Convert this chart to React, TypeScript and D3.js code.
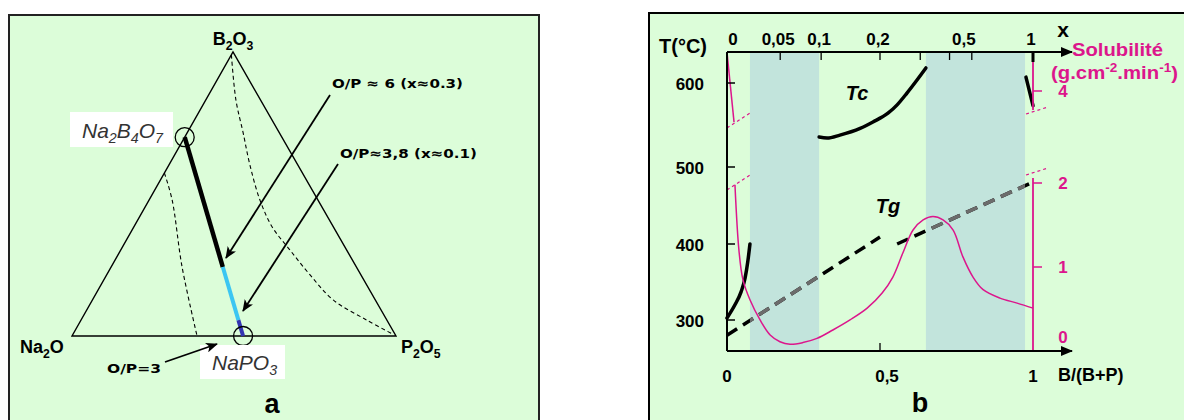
import React from "react";
import * as d3 from "d3";

// ---------------- Panel a : ternary Na2O - B2O3 - P2O5 ----------------
// compositions as [fraction P2O5, fraction B2O3]
const na2b4o7Comp = [0, 0.7];
const napo3Comp = [0.528, 0];
const joinBreaks = [0, 0.653, 0.92, 1];
const joinColors = ["#000000", "#3cc6f2", "#3434b2"];
const leftDashP = [0, 0.071, 0.219, 0.386];
const leftDashB = [0.574, 0.479, 0.243, 0];
const rightDashP = [0, 0.093, 0.173, 0.25, 0.342, 0.427, 0.522, 0.628, 0.743, 0.882, 0.99];
const rightDashB = [0.99, 0.831, 0.715, 0.602, 0.479, 0.384, 0.303, 0.215, 0.127, 0.056, 0.005];
const annotationTexts = ["O/P \u2248 6 (x\u22480.3)", "O/P\u22483,8 (x\u22480.1)", "O/P=3"];

// ---------------- Panel b ----------------
const topTicks = [0, 0.05, 0.1, 0.2, 0.3, 0.4, 0.5, 1];
const topTickLabels = ["0", "0,05", "0,1", "0,2", "", "", "0,5", "1"];
const bottomTicks = [0, 0.5, 1];
const bottomTickLabels = ["0", "0,5", "1"];
const tempTicks = [300, 400, 500, 600];
const solTicksLow = [1, 2];
const solTicksHigh = [4];
const solLabelsLow = ["0", "1", "2"];
const solLabelValuesLow = [0, 1, 2];
const shadedB = [
  [0.075, 0.301],
  [0.65, 0.974],
];
const tcLeftB = [0, 0.026, 0.046, 0.059, 0.068, 0.075];
const tcLeftT = [302.6, 320, 337, 355, 377, 400];
const tcMidB = [0.301, 0.327, 0.369, 0.435, 0.477, 0.526, 0.556, 0.588, 0.621, 0.65];
const tcMidT = [535.7, 534.5, 538, 546, 553.6, 564, 574, 588, 603.6, 617.9];
const tcRightB = [0.977, 1];
const tcRightT = [607, 573];
const tg1B = [0, 0.5];
const tg1T = [280, 409];
const tg2B = [0.556, 1];
const tg2T = [400, 480.5];
const solB = [0.026, 0.039, 0.052, 0.075, 0.108, 0.141, 0.173, 0.206, 0.248, 0.294, 0.346, 0.402, 0.458, 0.507, 0.542, 0.575, 0.608, 0.641, 0.673, 0.706, 0.739, 0.771, 0.804, 0.837, 0.892, 0.948, 1.0];
const solS = [1.98, 1.2, 0.85, 0.61, 0.37, 0.19, 0.11, 0.08, 0.1, 0.15, 0.25, 0.37, 0.51, 0.69, 0.88, 1.17, 1.44, 1.56, 1.6, 1.56, 1.44, 1.12, 0.88, 0.73, 0.63, 0.57, 0.51];
const solHighB = [0, 0.023];
const solHighS = [4.46, 3.63];

const BG = "#dcfdd9";
const SHADE = "#c2e4dc";
const MAG = "#dc168c";
const FONT = "'Liberation Sans', Arial, sans-serif";

function Chem({ x, y, parts, size, anchor = "middle", weight = "bold", style = "normal", fill = "#000", sub = 5 }) {
  let shift = 0;
  const spans = parts.map((p, i) => {
    const isSub = typeof p !== "string";
    const text = isSub ? p.sub : p;
    const target = isSub ? sub : 0;
    const dy = target - shift;
    shift = target;
    return (
      <tspan key={i} dy={dy} fontSize={isSub ? size * 0.68 : size}>
        {text}
      </tspan>
    );
  });
  return (
    <text x={x} y={y} fontFamily={FONT} fontSize={size} fontWeight={weight} fontStyle={style} fill={fill} textAnchor={anchor}>
      {spans}
    </text>
  );
}

export default function App() {
  // ternary frame
  const NA = [72, 336];
  const PV = [396, 336];
  const BV = [233, 52];
  const tern = (p: number, b: number): [number, number] => [
    NA[0] + (PV[0] - NA[0]) * p + (BV[0] - NA[0]) * b,
    NA[1] + (PV[1] - NA[1]) * p + (BV[1] - NA[1]) * b,
  ];
  const curve = d3.line().curve(d3.curveCatmullRom.alpha(0.5));
  const leftDash = curve(leftDashP.map((p, i) => tern(p, leftDashB[i])));
  const rightDash = curve(rightDashP.map((p, i) => tern(p, rightDashB[i])));
  const s0 = tern(na2b4o7Comp[0], na2b4o7Comp[1]);
  const s1 = tern(napo3Comp[0], napo3Comp[1]);
  const along = (t: number): [number, number] => [s0[0] + (s1[0] - s0[0]) * t, s0[1] + (s1[1] - s0[1]) * t];

  // panel b scales
  const xB = d3.scaleLinear().domain([0, 1]).range([727, 1033]);
  const xTop = (x: number) => xB((4 * x) / (1 + 3 * x));
  const yT = d3.scaleLinear().domain([300, 400, 500, 600]).range([320, 244, 167, 83]);
  const ySolLo = d3.scaleLinear().domain([0, 2]).range([351, 183]);
  const ySolHi = d3.scaleLinear().domain([4, 5]).range([91, 7]);
  const yTop = 52;
  const yBot = 351;

  const lineT = d3.line().curve(d3.curveMonotoneX);
  const tcLeft = lineT(tcLeftB.map((b, i) => [xB(b), yT(tcLeftT[i])]));
  const tcMid = lineT(tcMidB.map((b, i) => [xB(b), yT(tcMidT[i])]));
  const tcRight = lineT(tcRightB.map((b, i) => [xB(b), yT(tcRightT[i])]));
  const tg1 = d3.line()(tg1B.map((b, i) => [xB(b), yT(tg1T[i])]));
  const tg2 = d3.line()(tg2B.map((b, i) => [xB(b), yT(tg2T[i])]));
  const solLine = d3.line().curve(d3.curveCatmullRom.alpha(0.5))(solB.map((b, i) => [xB(b), ySolLo(solS[i])]));
  const solHigh = d3.line()(solHighB.map((b, i) => [xB(b), ySolHi(solHighS[i])]));

  const xR = xB(1);
  const x0 = xB(0);

  return (
    <svg width={1184} height={420} style={{ position: "absolute", left: 0, top: 0 }} xmlns="http://www.w3.org/2000/svg">
      <defs>
        <marker id="arr" markerUnits="userSpaceOnUse" markerWidth={12} markerHeight={10} refX={11} refY={5} orient="auto">
          <path d="M0,0 L12,5 L0,10 L3,5 z" fill="#000" />
        </marker>
        <marker id="axarr" markerUnits="userSpaceOnUse" markerWidth={12} markerHeight={10} refX={11} refY={5} orient="auto">
          <path d="M0,0 L12,5 L0,10 z" fill="#000" />
        </marker>
        <clipPath id="shadeClip">
          {shadedB.map((r, i) => (
            <rect key={i} x={xB(r[0])} y={yTop} width={xB(r[1]) - xB(r[0])} height={yBot - yTop} />
          ))}
        </clipPath>
      </defs>
      <rect x={0} y={0} width={1184} height={420} fill="#fff" />

      {/* ---------- panel a ---------- */}
      <rect x={9} y={15} width={530} height={420} fill={BG} stroke="#222" strokeWidth={2} />
      <path d={`M${NA[0]},${NA[1]} L${PV[0]},${PV[1]} L${BV[0]},${BV[1]} Z`} fill="none" stroke="#000" strokeWidth={1.4} strokeLinejoin="miter" />
      <path d={leftDash} fill="none" stroke="#000" strokeWidth={1.1} strokeDasharray="4,3" />
      <path d={rightDash} fill="none" stroke="#000" strokeWidth={1.1} strokeDasharray="4,3" />
      {joinColors.map((c, i) => {
        const a = along(joinBreaks[i]);
        const b = along(joinBreaks[i + 1]);
        return <line key={i} x1={a[0]} y1={a[1]} x2={b[0]} y2={b[1]} stroke={c} strokeWidth={i === 0 ? 4.5 : 4} />;
      })}
      <circle cx={s0[0]} cy={s0[1]} r={9.5} fill="none" stroke="#000" strokeWidth={1.3} />
      <circle cx={s1[0]} cy={s1[1]} r={9.5} fill="none" stroke="#000" strokeWidth={1.3} />

      <Chem x={233} y={45} size={18} parts={["B", { sub: "2" }, "O", { sub: "3" }]} />
      <Chem x={20} y={353} size={18} anchor="start" parts={["Na", { sub: "2" }, "O"]} />
      <Chem x={401} y={353} size={18} anchor="start" parts={["P", { sub: "2" }, "O", { sub: "5" }]} />

      <rect x={70} y={112} width={103} height={35} fill="#fff" />
      <Chem x={82} y={138} size={21} anchor="start" weight="normal" style="italic" fill="#333" sub={5}
        parts={["Na", { sub: "2" }, "B", { sub: "4" }, "O", { sub: "7" }]} />
      <rect x={200} y={345} width={85} height={34} fill="#fff" />
      <Chem x={212} y={370} size={21} anchor="start" weight="normal" style="italic" fill="#333" sub={5}
        parts={["NaPO", { sub: "3" }]} />

      <text x={332} y={88} fontFamily="'DejaVu Sans', Verdana, sans-serif" fontWeight="bold" fontSize={13} textLength={131} lengthAdjust="spacingAndGlyphs">{annotationTexts[0]}</text>
      <line x1={330} y1={95} x2={226} y2={258} stroke="#000" strokeWidth={1.8} markerEnd="url(#arr)" />
      <text x={340} y={158} fontFamily="'DejaVu Sans', Verdana, sans-serif" fontWeight="bold" fontSize={13} textLength={137} lengthAdjust="spacingAndGlyphs">{annotationTexts[1]}</text>
      <line x1={338} y1={164} x2={243} y2={311} stroke="#000" strokeWidth={1.8} markerEnd="url(#arr)" />
      <text x={107} y={373} fontFamily="'DejaVu Sans', Verdana, sans-serif" fontWeight="bold" fontSize={13} textLength={54} lengthAdjust="spacingAndGlyphs">{annotationTexts[2]}</text>
      <line x1={165} y1={362} x2={217} y2={344} stroke="#000" strokeWidth={1.8} markerEnd="url(#arr)" />

      <text x={272} y={413} fontFamily={FONT} fontWeight="bold" fontSize={27} textAnchor="middle">a</text>

      {/* ---------- panel b ---------- */}
      <rect x={649} y={13} width={600} height={420} fill={BG} stroke="#000" strokeWidth={2} />
      {shadedB.map((r, i) => (
        <rect key={i} x={xB(r[0])} y={yTop} width={xB(r[1]) - xB(r[0])} height={yBot - yTop} fill={SHADE} />
      ))}

      {/* Tg dashed lines */}
      {[tg1, tg2].map((d, i) => (
        <g key={i}>
          <path d={d} fill="none" stroke="#000" strokeWidth={3.5} strokeDasharray="12,7" />
          <path d={d} fill="none" stroke="#6c6c6c" strokeWidth={3.5} strokeDasharray="12,7" clipPath="url(#shadeClip)" />
        </g>
      ))}

      {/* Tc lines */}
      {[tcLeft, tcMid, tcRight].map((d, i) => (
        <path key={i} d={d} fill="none" stroke="#000" strokeWidth={3.5} strokeLinecap="round" />
      ))}

      {/* solubility */}
      <path d={solLine} fill="none" stroke={MAG} strokeWidth={1.5} />
      <path d={solHigh} fill="none" stroke={MAG} strokeWidth={1.5} />

      {/* axis breaks */}
      <line x1={x0} y1={128} x2={750} y2={113} stroke={MAG} strokeWidth={1.2} strokeDasharray="3,3" />
      <line x1={x0} y1={190} x2={750} y2={175} stroke={MAG} strokeWidth={1.2} strokeDasharray="3,3" />
      <line x1={1026} y1={114} x2={1048} y2={107} stroke={MAG} strokeWidth={1.2} strokeDasharray="3,3" />
      <line x1={1026} y1={175} x2={1048} y2={168} stroke={MAG} strokeWidth={1.2} strokeDasharray="3,3" />

      {/* right magenta axis */}
      <line x1={xR} y1={yTop + 10} x2={xR} y2={110} stroke={MAG} strokeWidth={1.8} />
      <line x1={xR} y1={178} x2={xR} y2={yBot} stroke={MAG} strokeWidth={1.8} />
      {solTicksLow.map((s) => (
        <line key={s} x1={xR} x2={xR + 9} y1={ySolLo(s)} y2={ySolLo(s)} stroke={MAG} strokeWidth={1.5} />
      ))}
      {solTicksHigh.map((s) => (
        <line key={s} x1={xR} x2={xR + 9} y1={ySolHi(s)} y2={ySolHi(s)} stroke={MAG} strokeWidth={1.5} />
      ))}
      {solLabelValuesLow.map((s, i) => (
        <text key={s} x={1063} y={s === 0 ? ySolLo(s) - 8 : ySolLo(s) + 6} fontFamily={FONT} fontWeight="bold" fontSize={17} fill={MAG} textAnchor="middle">{solLabelsLow[i]}</text>
      ))}
      {solTicksHigh.map((s) => (
        <text key={s} x={1063} y={ySolHi(s) + 6} fontFamily={FONT} fontWeight="bold" fontSize={17} fill={MAG} textAnchor="middle">{String(s)}</text>
      ))}

      {/* left axis */}
      <line x1={x0} y1={yTop} x2={x0} y2={yBot} stroke="#000" strokeWidth={2} />
      {tempTicks.map((t) => (
        <g key={t}>
          <line x1={x0} x2={x0 + 8} y1={yT(t)} y2={yT(t)} stroke="#000" strokeWidth={1.5} />
          <text x={704} y={yT(t) + 7} fontFamily={FONT} fontWeight="bold" fontSize={17} textAnchor="end">{String(t)}</text>
        </g>
      ))}
      <text x={659} y={53} fontFamily={FONT} fontWeight="bold" fontSize={20}>T(°C)</text>

      {/* top axis (x) */}
      <line x1={x0} y1={yTop} x2={1072} y2={yTop} stroke="#000" strokeWidth={2} markerEnd="url(#axarr)" />
      {topTicks.map((t, i) => (
        <g key={t}>
          {t > 0 && (
            <line x1={xTop(t)} x2={xTop(t)} y1={yTop} y2={yTop + (t === 1 ? 10 : 8)} stroke="#000" strokeWidth={t === 1 ? 3 : 1.3} />
          )}
          {topTickLabels[i] && (
            <text x={xTop(t) + (t === 0 ? 6 : t === 0.5 ? -8 : -2)} y={45} fontFamily={FONT} fontWeight="bold" fontSize={17} textAnchor="middle">{topTickLabels[i]}</text>
          )}
        </g>
      ))}
      <text x={1063} y={37} fontFamily={FONT} fontWeight="bold" fontSize={21} textAnchor="middle">x</text>
      <text x={1072} y={56} fontFamily={FONT} fontWeight="bold" fontSize={18} fill={MAG} textLength={91} lengthAdjust="spacingAndGlyphs">Solubilité</text>
      <text x={1051} y={79} fontFamily={FONT} fontWeight="bold" fontSize={18} fill={MAG} textLength={127} lengthAdjust="spacingAndGlyphs">
        <tspan>(g.cm</tspan>
        <tspan dy={-7} fontSize={12}>-2</tspan>
        <tspan dy={7}>.min</tspan>
        <tspan dy={-7} fontSize={12}>-1</tspan>
        <tspan dy={7}>)</tspan>
      </text>

      {/* bottom axis */}
      <line x1={x0} y1={yBot} x2={1072} y2={yBot} stroke="#000" strokeWidth={2} markerEnd="url(#axarr)" />
      {bottomTicks.map((t, i) => (
        <g key={t}>
          {t === 0.5 && <line x1={xB(t)} x2={xB(t)} y1={yBot} y2={yBot - 8} stroke="#000" strokeWidth={1.3} />}
          <text x={xB(t) + (t === 0.5 ? 7 : 0)} y={382} fontFamily={FONT} fontWeight="bold" fontSize={17} textAnchor="middle">{bottomTickLabels[i]}</text>
        </g>
      ))}
      <text x={1058} y={381} fontFamily={FONT} fontWeight="bold" fontSize={18}>B/(B+P)</text>

      <text x={857} y={100} fontFamily={FONT} fontWeight="bold" fontStyle="italic" fontSize={20} textAnchor="middle">Tc</text>
      <text x={888} y={213} fontFamily={FONT} fontWeight="bold" fontStyle="italic" fontSize={20} textAnchor="middle">Tg</text>

      <text x={920} y={412} fontFamily={FONT} fontWeight="bold" fontSize={27} textAnchor="middle">b</text>
    </svg>
  );
}
